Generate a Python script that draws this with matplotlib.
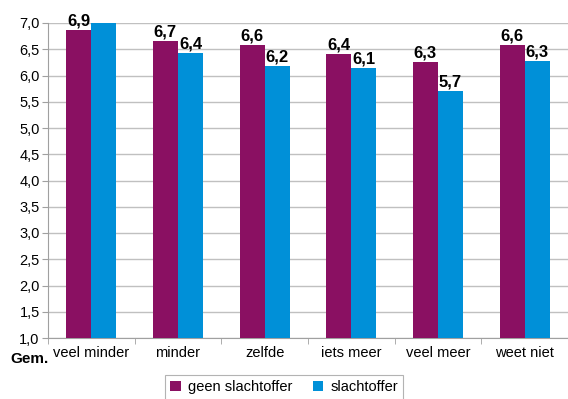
import numpy as np
import matplotlib
matplotlib.use('Agg')
import matplotlib.pyplot as plt
from matplotlib.ticker import FixedLocator, FuncFormatter

plt.rcParams['font.family'] = ['Liberation Sans', 'DejaVu Sans']

categories = ['veel minder', 'minder', 'zelfde', 'iets meer', 'veel meer', 'weet niet']
geen_slachtoffer = [6.87, 6.66, 6.58, 6.41, 6.26, 6.58]
slachtoffer = [7.05, 6.43, 6.18, 6.14, 5.70, 6.27]
series_names = ['geen slachtoffer', 'slachtoffer']

PURPLE = '#8a1062'
BLUE = '#0090d8'
YMIN, YMAX = 1.0, 7.0

fig = plt.figure(figsize=(5.68, 3.99), dpi=100)
ax = fig.add_axes([48 / 568, 1 - 338 / 399, 520 / 568, 315 / 399])

x = np.arange(len(categories))
w = 0.29
ax.bar(x - w / 2, np.array(geen_slachtoffer) - YMIN, w, bottom=YMIN,
       color=PURPLE, label=series_names[0], zorder=3)
ax.bar(x + w / 2, np.array(slachtoffer) - YMIN, w, bottom=YMIN,
       color=BLUE, label=series_names[1], zorder=3)

def fmt(v):
    return ('%.1f' % v).replace('.', ',')

# value labels above bars (skip the ones beyond the axis top)
for xs, vals in ((x - w / 2, geen_slachtoffer), (x + w / 2, slachtoffer)):
    for xi, v in zip(xs, vals):
        if v > YMAX:
            continue
        ax.annotate(fmt(v), (xi, v), xytext=(0, 1), textcoords='offset points',
                    ha='center', va='bottom', fontsize=12, fontweight='bold',
                    family=['Liberation Sans Narrow', 'Liberation Sans'],
                    clip_on=False)

ax.set_ylim(YMIN, YMAX)
ax.set_xlim(-0.5, len(categories) - 0.5)
ax.set_yticks(np.arange(1.0, 7.01, 0.5))
ax.yaxis.set_major_formatter(FuncFormatter(lambda v, p: fmt(v)))
ax.yaxis.grid(True, color='#c0c0c0', linewidth=1.0, zorder=0)

ax.set_xticks(x)
ax.set_xticklabels(categories)
ax.xaxis.set_minor_locator(FixedLocator(np.arange(-0.5, len(categories), 1.0)))
ax.tick_params(axis='x', which='major', length=0, pad=6, labelsize=10.5)
ax.tick_params(axis='x', which='minor', length=4, color='#a0a0a0')
ax.tick_params(axis='y', length=4, color='#a0a0a0', labelsize=10.5, pad=2)

for s in ['top', 'right']:
    ax.spines[s].set_visible(False)
ax.spines['left'].set_color('#a0a0a0')
ax.spines['bottom'].set_color('#a0a0a0')

fig.text(10 / 568, 1 - 359 / 399, 'Gem.', fontsize=11, fontweight='bold',
         va='center', ha='left')

leg = ax.legend(loc='upper center', bbox_to_anchor=(284 / 568, 1 - 368 / 399),
                bbox_transform=fig.transFigure, ncol=2, frameon=True,
                fancybox=False, edgecolor='#a0a0a0', fontsize=10.5,
                handlelength=0.7, handleheight=0.7, handletextpad=0.5,
                columnspacing=1.4, borderpad=0.35)
leg.get_frame().set_linewidth(0.8)

fig.savefig('out.png', dpi=100)
